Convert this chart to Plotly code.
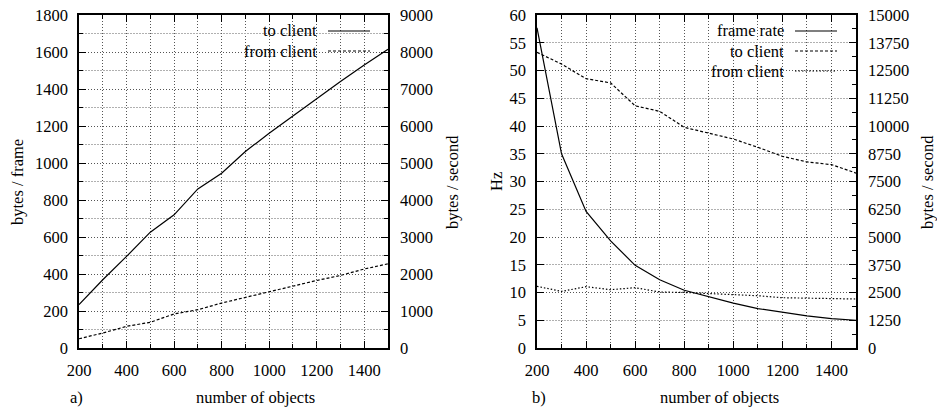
import plotly.graph_objects as go

# ---- data ----
objects = [200, 300, 400, 500, 600, 700, 800, 900, 1000, 1100, 1200, 1300, 1400, 1500]
a_to_client = [234, 369, 495, 626, 720, 860, 945, 1062, 1161, 1255, 1345, 1440, 1530, 1615]
a_from_client = [50, 81, 117, 139, 184, 207, 243, 274, 302, 333, 365, 392, 427, 455]
b_frame_rate = [57.7, 35.0, 24.6, 19.3, 14.9, 12.3, 10.4, 9.2, 8.1, 7.1, 6.4, 5.8, 5.3, 5.0]
b_to_client = [13320, 12790, 12130, 11940, 10910, 10660, 9940, 9685, 9415, 9040, 8635, 8380, 8260, 7880]
b_from_client = [2778, 2550, 2762, 2626, 2717, 2522, 2502, 2446, 2400, 2355, 2265, 2250, 2220, 2207]

W, H = 937, 408
FONT = "Liberation Serif"
DARK = "#555555"
LIGHT = "#b0b0b0"
DOT = "1px,2px"
DASH_A = "3px,2px"
DOT_B = "1.5px,2px"

def px(x):
    return x / W

def py(y):
    return 1 - y / H

Y_DOM = [py(348), py(15)]
XA_DOM = [px(79), px(388)]
XB_DOM = [px(537), px(856)]

fig = go.Figure()
line = dict(color="black", width=1.2)

fig.add_trace(go.Scatter(x=objects, y=a_to_client, mode="lines", line=line,
                         xaxis="x", yaxis="y", showlegend=False))
fig.add_trace(go.Scatter(x=objects, y=a_from_client, mode="lines", line=dict(line, dash=DASH_A),
                         xaxis="x", yaxis="y", showlegend=False))
fig.add_trace(go.Scatter(x=[None], y=[None], xaxis="x", yaxis="y2", showlegend=False))

fig.add_trace(go.Scatter(x=objects, y=b_frame_rate, mode="lines", line=line,
                         xaxis="x2", yaxis="y4", showlegend=False))
fig.add_trace(go.Scatter(x=objects, y=b_to_client, mode="lines", line=dict(line, dash=DASH_A),
                         xaxis="x2", yaxis="y5", showlegend=False))
fig.add_trace(go.Scatter(x=objects, y=b_from_client, mode="lines", line=dict(line, dash=DOT_B),
                         xaxis="x2", yaxis="y5", showlegend=False))
fig.add_trace(go.Scatter(x=[None], y=[None], xaxis="x2", yaxis="y6", showlegend=False))

tickfont = dict(family=FONT, size=16.5, color="black")
common = dict(showline=True, linecolor="black", linewidth=1.5, ticks="inside", ticklen=7,
              tickcolor="black", tickfont=tickfont, zeroline=False, fixedrange=True,
              automargin=False, tickformat="d")

def xaxis(dom, anchor):
    return dict(common, domain=dom, anchor=anchor, range=[200, 1500], tick0=200, dtick=200,
                mirror="ticks", showgrid=True, gridcolor=DARK, griddash=DOT, gridwidth=1,
                ticklabelstandoff=6,
                minor=dict(dtick=100, ticks="inside", ticklen=4, tickcolor="black",
                           showgrid=True, gridcolor=DARK, griddash=DOT, gridwidth=1))

fig.update_layout(
    width=W, height=H, margin=dict(l=0, r=0, t=0, b=0),
    paper_bgcolor="white", plot_bgcolor="white",
    xaxis=xaxis(XA_DOM, "y"),
    yaxis=dict(common, domain=Y_DOM, anchor="x", range=[0, 1800], dtick=200,
               showgrid=True, gridcolor=DARK, griddash=DOT, ticklabelstandoff=6,
               minor=dict(dtick=100, ticks="inside", ticklen=4, tickcolor="black",
                          showgrid=True, gridcolor=LIGHT, griddash="2px,1px")),
    yaxis2=dict(common, overlaying="y", side="right", anchor="x", range=[0, 9000], dtick=1000,
                showgrid=False, ticklabelstandoff=7,
                minor=dict(dtick=500, ticks="inside", ticklen=4, tickcolor="black")),
    xaxis2=xaxis(XB_DOM, "y4"),
    yaxis4=dict(common, domain=Y_DOM, anchor="x2", range=[0, 60], dtick=5, showgrid=False,
                ticklabelstandoff=6),
    yaxis5=dict(common, overlaying="y4", side="right", anchor="x2", range=[0, 15000], dtick=1250,
                showgrid=False, ticklabelstandoff=7,
                minor=dict(dtick=625, ticks="inside", ticklen=4, tickcolor="black")),
    yaxis6=dict(overlaying="y4", anchor="x2", range=[0, 60], dtick=10, showticklabels=False,
                ticks="", showline=False, zeroline=False, fixedrange=True, automargin=False,
                showgrid=True, gridcolor=DARK, griddash=DOT,
                minor=dict(dtick=5, showgrid=True, gridcolor=LIGHT, griddash="2px,1px")),
)

# legend background boxes (hide grid behind keys)
fig.add_shape(type="rect", xref="paper", yref="paper", layer="between",
              x0=px(215), x1=px(387), y0=py(60), y1=py(16.5),
              fillcolor="white", line=dict(width=0))
fig.add_shape(type="rect", xref="paper", yref="paper", layer="between",
              x0=px(683), x1=px(855), y0=py(80), y1=py(16.5),
              fillcolor="white", line=dict(width=0))

afont = dict(family=FONT, size=16.5, color="black")

def text(x, y, s, angle=0, xanchor="center"):
    fig.add_annotation(xref="paper", yref="paper", x=px(x), y=py(y), text=s, showarrow=False,
                       textangle=angle, xanchor=xanchor, yanchor="middle", font=afont)

def key(x0, x1, y, dash):
    fig.add_shape(type="line", xref="paper", yref="paper", x0=px(x0), x1=px(x1),
                  y0=py(y), y1=py(y), line=dict(color="black", width=1.2, dash=dash))

# legend a
text(319, 31, "to client", xanchor="right")
key(328, 370, 31, "solid")
text(319, 51, "from client", xanchor="right")
key(328, 370, 51, DASH_A)
# legend b
text(786, 31, "frame rate", xanchor="right")
key(795, 837, 31, "solid")
text(786, 51, "to client", xanchor="right")
key(795, 837, 51, DASH_A)
text(786, 71, "from client", xanchor="right")
key(795, 837, 71, DOT_B)

# axis titles
text(17, 182, "bytes / frame", angle=-90)
text(452, 182, "bytes / second", angle=-90)
text(255, 397, "number of objects")
text(76, 397, "a)")
text(496, 182, "Hz", angle=-90)
text(927, 182, "bytes / second", angle=-90)
text(719, 397, "number of objects")
text(539, 397, "b)")

fig.write_html("out.html", config={"displayModeBar": False},
               post_script="document.body.style.margin='0';document.body.style.overflow='hidden';")
